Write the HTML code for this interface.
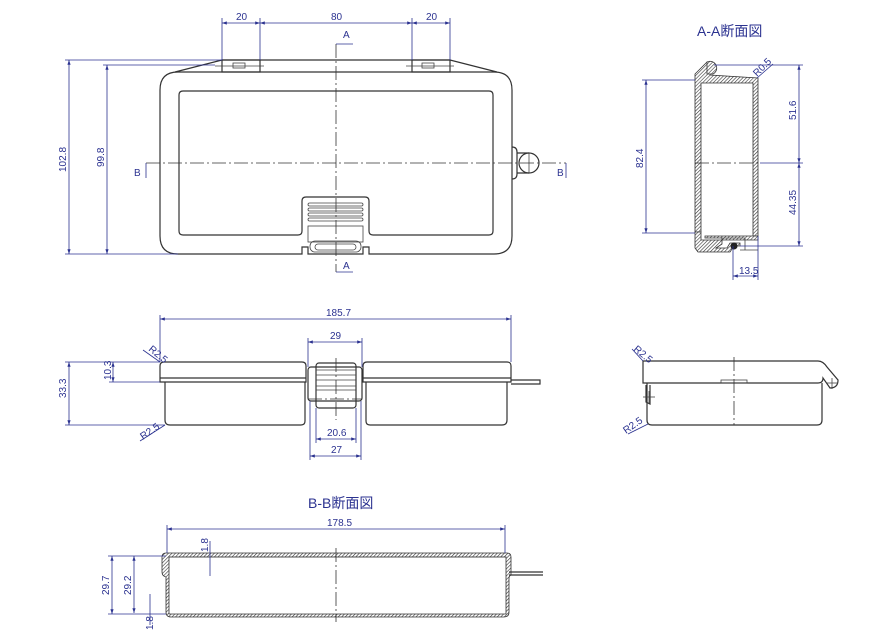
<!DOCTYPE html>
<html><head><meta charset="utf-8"><style>
html,body{margin:0;padding:0;background:#fff;width:895px;height:635px;overflow:hidden}
svg{display:block}
.o{fill:none;stroke:#333;stroke-width:1.2}
.t{fill:none;stroke:#444;stroke-width:0.8}
.d{fill:none;stroke:#2b3290;stroke-width:0.8}
.c{fill:none;stroke:#333;stroke-width:0.8;stroke-dasharray:14 3 2 3}
.h{fill:url(#hat);stroke:#333;stroke-width:0.8}
text{font-family:"Liberation Sans Narrow","Liberation Sans",sans-serif;fill:#2b3290;font-size:10px}
.ti{font-family:"Liberation Sans","Noto Sans CJK JP",sans-serif;font-size:14px;fill:#2b3290}
</style></head><body>
<svg width="895" height="635" viewBox="0 0 895 635">
<defs>
<pattern id="hat" width="2.5" height="2.5" patternUnits="userSpaceOnUse" patternTransform="rotate(45)"><rect width="2.5" height="2.5" fill="#fff"/><line x1="0" y1="0" x2="0" y2="2.5" stroke="#333" stroke-width="1.2"/></pattern>
<marker id="a" viewBox="0 0 6 6" refX="6" refY="3" markerWidth="6" markerHeight="6" orient="auto-start-reverse"><path d="M0,1 L6,3 L0,5" fill="#2b3290"/></marker>
</defs>

<!-- TOP VIEW -->
<path class="o" d="M178,72 H494 Q512,72 512,90 V236 Q512,254 494,254 H369 V247 H363 V254 H308 V247 H302 V254 H178 Q160,254 160,236 V90 Q160,72 178,72 Z"/>
<path class="o" d="M175,72 L222,60 H450 L497,72"/>
<rect class="o" x="222" y="60" width="38" height="12"/><rect class="o" x="412" y="60" width="38" height="12"/>
<rect class="t" x="233" y="63" width="12" height="5"/><rect class="t" x="422" y="63" width="12" height="5"/>
<line class="t" x1="215" y1="66" x2="264" y2="66"/><line class="t" x1="406" y1="66" x2="454" y2="66"/>
<path class="o" stroke-width="1.6" d="M183,91 H489 Q493,91 493,95 V231 Q493,235 489,235 H373 Q369,235 369,231 V201 Q369,197 365,197 H306 Q302,197 302,201 V231 Q302,235 298,235 H183 Q179,235 179,231 V95 Q179,91 183,91 Z"/>
<g class="t"><rect x="308" y="203" width="55" height="3" rx="1.5"/><rect x="308" y="208" width="55" height="3" rx="1.5"/><rect x="308" y="213" width="55" height="3" rx="1.5"/><rect x="308" y="218" width="55" height="3" rx="1.5"/>
<rect x="308" y="226" width="55" height="16"/><rect x="310" y="241" width="51" height="11" rx="5"/><rect x="315" y="244" width="41" height="6" rx="3"/></g>
<path class="o" d="M512,147 Q517,147 517,152 V174 Q517,179 512,179"/>
<path class="o" d="M517,153 H529 M517,173 H529"/>
<circle class="o" cx="529" cy="163" r="10" fill="#fff"/>
<line class="t" x1="529" y1="153" x2="529" y2="173"/>
<line class="c" x1="336" y1="44" x2="336" y2="272"/>
<line class="c" x1="146" y1="163" x2="566" y2="163"/>
<path class="d" d="M336,44 H353 M336,272 H353 M146,163 V178 M566,163 V178"/>
<text x="343" y="38" font-size="12">A</text><text x="343" y="269" font-size="12">A</text>
<text x="134" y="176" font-size="12">B</text><text x="557" y="176" font-size="12">B</text>
<g class="d"><line x1="222" y1="18" x2="222" y2="60"/><line x1="260" y1="18" x2="260" y2="60"/><line x1="412" y1="18" x2="412" y2="60"/><line x1="450" y1="18" x2="450" y2="60"/>
<line x1="222" y1="23" x2="260" y2="23" marker-start="url(#a)" marker-end="url(#a)"/><line x1="260" y1="23" x2="412" y2="23" marker-start="url(#a)" marker-end="url(#a)"/><line x1="412" y1="23" x2="450" y2="23" marker-start="url(#a)" marker-end="url(#a)"/>
<line x1="65" y1="60" x2="222" y2="60"/><line x1="103" y1="65" x2="215" y2="65"/><line x1="65" y1="254" x2="178" y2="254"/>
<line x1="69" y1="60" x2="69" y2="254" marker-start="url(#a)" marker-end="url(#a)"/><line x1="107" y1="65" x2="107" y2="254" marker-start="url(#a)" marker-end="url(#a)"/></g>
<text x="236" y="20">20</text><text x="331" y="20">80</text><text x="426" y="20">20</text>
<text transform="translate(66,172) rotate(-90)">102.8</text><text transform="translate(104,167) rotate(-90)">99.8</text>

<!-- A-A SECTION -->
<text class="ti" x="697" y="36">A-A断面図</text>
<path class="h" d="M695,232 V74 L707,62 L712,62 L710,75 L758,78 V236 H753 V83 H701 V232 Z"/>
<path class="h" d="M707,62 A6,6 0 1 1 713,74 L707,74 Z"/>
<path class="h" d="M695,232 V248 L698,252 H730 L734,246 H740 V243 H730 L727,248 H716 L722,244 V238 H705 V236 H758 V240 H701 V232 Z"/>
<circle cx="734" cy="246" r="3.5" fill="#222"/>
<line class="t" x1="722" y1="238" x2="745" y2="238"/><line class="t" x1="745" y1="238" x2="745" y2="250"/>
<line class="t" x1="740" y1="250" x2="758" y2="250"/>
<line class="c" x1="695" y1="163" x2="760" y2="163"/>
<g class="d"><line x1="642" y1="80" x2="695" y2="80"/><line x1="642" y1="233" x2="695" y2="233"/>
<line x1="646" y1="80" x2="646" y2="233" marker-start="url(#a)" marker-end="url(#a)"/>
<line x1="714" y1="65" x2="803" y2="65"/><line x1="760" y1="163" x2="803" y2="163"/><line x1="740" y1="246" x2="803" y2="246"/>
<line x1="799" y1="65" x2="799" y2="163" marker-start="url(#a)" marker-end="url(#a)"/><line x1="799" y1="163" x2="799" y2="246" marker-start="url(#a)" marker-end="url(#a)"/>
<line x1="733" y1="246" x2="733" y2="280"/><line x1="758" y1="236" x2="758" y2="280"/>
<line x1="733" y1="276" x2="758" y2="276" marker-start="url(#a)" marker-end="url(#a)"/>
<line x1="757" y1="78" x2="773" y2="64"/></g>
<text transform="translate(643,168) rotate(-90)">82.4</text>
<text transform="translate(796,120) rotate(-90)">51.6</text>
<text transform="translate(796,215) rotate(-90)">44.35</text>
<text x="739" y="274">13.5</text>
<text transform="translate(757,77) rotate(-45)">R0.5</text>

<!-- FRONT VIEW -->
<path class="o" d="M164,362 H302 Q306,362 306,366 V382 H160 V366 Q160,362 164,362 Z"/>
<path class="o" d="M367,362 H507 Q511,362 511,366 V382 H363 V366 Q363,362 367,362 Z"/>
<path class="o" d="M165,382 V420 Q165,425 170,425 H301 Q305,425 305,421 V382"/>
<path class="o" d="M366,382 V421 Q366,425 370,425 H502 Q507,425 507,420 V382"/>
<path class="o" d="M160,378 H306 M363,378 H511"/>
<rect class="o" x="308" y="367" width="54" height="34" rx="3"/>
<rect class="o" x="316" y="363" width="40" height="45" rx="3"/>
<g class="t"><line x1="316" y1="370" x2="356" y2="370"/><line x1="316" y1="375" x2="356" y2="375"/><line x1="316" y1="380" x2="356" y2="380"/><line x1="316" y1="386" x2="356" y2="386"/><line x1="316" y1="390" x2="356" y2="390"/></g>
<line class="c" x1="308" y1="399" x2="362" y2="399"/>
<line class="c" x1="336" y1="358" x2="336" y2="420"/>
<path class="o" d="M511,380 H540 V384 H511"/>
<g class="d"><line x1="160" y1="315" x2="160" y2="362"/><line x1="511" y1="315" x2="511" y2="362"/>
<line x1="160" y1="319" x2="511" y2="319" marker-start="url(#a)" marker-end="url(#a)"/>
<line x1="308" y1="338" x2="308" y2="367"/><line x1="362" y1="338" x2="362" y2="367"/>
<line x1="308" y1="342" x2="362" y2="342" marker-start="url(#a)" marker-end="url(#a)"/>
<line x1="316" y1="408" x2="316" y2="443"/><line x1="356" y1="408" x2="356" y2="443"/>
<line x1="316" y1="439" x2="356" y2="439" marker-start="url(#a)" marker-end="url(#a)"/>
<line x1="310" y1="401" x2="310" y2="460"/><line x1="361" y1="401" x2="361" y2="460"/>
<line x1="310" y1="456" x2="361" y2="456" marker-start="url(#a)" marker-end="url(#a)"/>
<line x1="65" y1="362" x2="160" y2="362"/><line x1="65" y1="425" x2="165" y2="425"/><line x1="109" y1="382" x2="160" y2="382"/>
<line x1="69" y1="362" x2="69" y2="425" marker-start="url(#a)" marker-end="url(#a)"/>
<line x1="113" y1="362" x2="113" y2="382" marker-start="url(#a)" marker-end="url(#a)"/>
<line x1="143" y1="350" x2="160" y2="362"/><line x1="140" y1="441" x2="165" y2="425"/></g>
<text x="326" y="316">185.7</text><text x="330" y="339">29</text><text x="327" y="436">20.6</text><text x="331" y="453">27</text>
<text transform="translate(66,398) rotate(-90)">33.3</text><text transform="translate(111,380) rotate(-90)">10.3</text>
<text transform="translate(148,350) rotate(40)">R2.5</text><text transform="translate(143,440) rotate(-35)">R2.5</text>

<!-- SIDE VIEW -->
<path class="o" d="M643,361 H818 Q823,361 827,367 L838,380 Q838,388 830,388 L823,378 Q823,383 818,383 H643 Z"/>
<path class="o" d="M647,383 V420 Q647,425 652,425 H817 Q822,425 822,420 V383"/>
<path class="o" d="M646,385 V402 L650,404 V385"/>
<line class="t" x1="643" y1="397" x2="655" y2="397"/><line class="t" x1="649" y1="391" x2="649" y2="403"/>
<line class="t" x1="827" y1="383" x2="838" y2="383"/><line class="t" x1="832" y1="378" x2="832" y2="389"/>
<rect class="t" x="721" y="380" width="26" height="3"/>
<line class="c" x1="734" y1="357" x2="734" y2="425"/>
<g class="d"><line x1="632" y1="349" x2="643" y2="361"/><line x1="628" y1="434" x2="648" y2="424"/></g>
<text transform="translate(633,350) rotate(40)">R2.5</text><text transform="translate(626,434) rotate(-35)">R2.5</text>

<!-- B-B SECTION -->
<text class="ti" x="308" y="508">B-B断面図</text>
<path class="h" d="M166,553 H507 Q511,553 511,557 V575 Q509,576 509,578 V612 Q509,617 504,617 H171 Q166,617 166,612 V577 Q162,576 162,572 V557 Q162,553 166,553 Z M169,557 V614 H506 V557 Z"/>
<line class="t" x1="169" y1="557" x2="506" y2="557"/>
<line class="c" x1="336" y1="548" x2="336" y2="622"/>
<path class="o" d="M509,572 H543 M509,575 H543"/>
<g class="d"><line x1="167" y1="525" x2="167" y2="553"/><line x1="505" y1="525" x2="505" y2="553"/>
<line x1="167" y1="529" x2="505" y2="529" marker-start="url(#a)" marker-end="url(#a)"/>
<line x1="108" y1="556" x2="166" y2="556"/><line x1="108" y1="614" x2="166" y2="614"/>
<line x1="112" y1="556" x2="112" y2="614" marker-start="url(#a)" marker-end="url(#a)"/>
<line x1="134" y1="556" x2="134" y2="613" marker-start="url(#a)" marker-end="url(#a)"/>
<line x1="210" y1="541" x2="210" y2="576"/><line x1="150" y1="594" x2="150" y2="625"/></g>
<text x="327" y="526">178.5</text>
<text transform="translate(109,595) rotate(-90)">29.7</text><text transform="translate(131,595) rotate(-90)">29.2</text>
<text transform="translate(208,552) rotate(-90)">1.8</text><text transform="translate(153,630) rotate(-90)">1.8</text>
</svg>
</body></html>
